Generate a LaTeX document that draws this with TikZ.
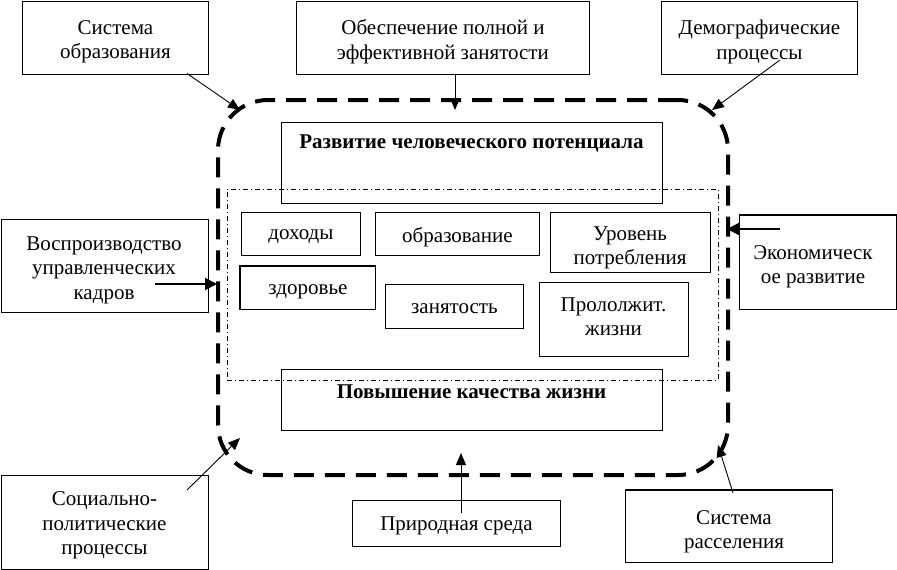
\documentclass[tikz,border=0pt]{standalone}
\usepackage{fontspec}
\setmainfont{Liberation Serif}
\usetikzlibrary{arrows.meta,calc}
\begin{document}
\begin{tikzpicture}[x=1pt,y=-1pt,
  box/.style={draw,line width=0.9pt,inner sep=0pt,anchor=north west},
  txt/.style={inner sep=0pt,align=center,font=\fontsize{21}{24.5}\selectfont},
  btxt/.style={inner sep=0pt,align=center,font=\fontsize{21}{24.5}\selectfont\bfseries},
  arr/.style={-{Triangle[length=12pt,width=10pt]},line width=0.9pt},
  tharr/.style={-{Triangle[length=12pt,width=12pt]},line width=2pt},
  frm/.style={draw,line width=4pt,dash pattern=on 20pt off 11pt,rounded corners=50pt,inner sep=0pt},
  grp/.style={draw,line width=0.7pt,dash pattern=on 5pt off 3pt on 1pt off 3pt,inner sep=0pt,anchor=north west}
]
\useasboundingbox (0,0) rectangle (897,570);

% outer dashed frame
\node[frm,minimum width=510pt,minimum height=375pt] (frame) at (473,287.5) {};
% inner dash-dot group
\node[grp,minimum width=491pt,minimum height=191pt] (group) at (227,189) {};

% top boxes
\node[box,minimum width=186pt,minimum height=73pt] (so) at (22,0.5) {};
\node[txt] (sot) at ($(so.center)+(0,4.5)$) {Система\\образования};
\node[box,minimum width=293pt,minimum height=73pt] (ob) at (296,0.5) {};
\node[txt] (obt) at ($(ob.center)+(0,4.5)$) {Обеспечение полной и\\эффективной занятости};
\node[box,minimum width=196pt,minimum height=73pt] (dem) at (661,0.5) {};
\node[txt] (demt) at ($(dem.center)+(0,4.5)$) {Демографические\\процессы};

% central boxes
\node[box,minimum width=381pt,minimum height=81pt] (rch) at (281,122) {};
\node[btxt] (rcht) at (471.5,143.5) {Развитие человеческого потенциала};
\node[box,minimum width=381pt,minimum height=61pt] (pkj) at (281,369) {};
\node[btxt] (pkjt) at (471.5,392) {Повышение качества жизни};

\node[box,minimum width=119pt,minimum height=43pt] (dox) at (241,212) {};
\node[txt] (doxt) at ($(dox.center)+(0,3)$) {доходы};
\node[box,minimum width=164pt,minimum height=43pt] (obr) at (375,212) {};
\node[txt] (obrt) at ($(obr.center)+(0,3)$) {образование};
\node[box,minimum width=160pt,minimum height=60pt] (urv) at (550,212) {};
\node[txt] (urvt) at (630,248) {Уровень\\потребления};
\node[box,minimum width=135pt,minimum height=43pt] (zdr) at (240,266) {};
\node[txt] (zdrt) at ($(zdr.center)+(0,3.5)$) {здоровье};
\draw[line width=2pt] (zdr.south west) -- (zdr.north west) -- (zdr.north east);
\node[box,minimum width=138pt,minimum height=44pt] (zan) at (385,284) {};
\node[txt] (zant) at ($(zan.center)+(0,2)$) {занятость};
\node[box,minimum width=149pt,minimum height=74pt] (pro) at (539,282) {};
\node[txt] (prot) at (613.5,316.5) {Прололжит.\\жизни};

% side boxes
\node[box,minimum width=207pt,minimum height=93pt] (vos) at (0.5,219) {};
\node[txt] (vost) at (104,270) {Воспроизводство\\управленческих\\кадров};
\node[box,minimum width=157pt,minimum height=94pt] (eko) at (739,215) {};
\node[txt] (ekot) at (813,267) {Экономическ\\ое развитие};
\draw[line width=2pt] (eko.north west) -- (eko.north east);

% bottom boxes
\node[box,minimum width=207pt,minimum height=94pt] (soc) at (0.5,475) {};
\node[txt] (soct) at ($(soc.center)+(0,3)$) {Социально-\\политические\\процессы};
\node[box,minimum width=208pt,minimum height=46pt] (pri) at (352,500) {};
\node[txt] (prit) at ($(pri.center)+(0,2)$) {Природная среда};
\node[box,minimum width=207pt,minimum height=72pt] (ras) at (625,490) {};
\node[txt] (rast) at (734,532) {Система\\расселения};
\draw[line width=2pt] (ras.north west) -- (ras.north east);

% connector ends
\coordinate (so-o) at (187,73.5);
\coordinate (f-so) at (240,110);
\coordinate (ob-o) at (455,73.5);
\coordinate (f-ob) at (455,110);
\coordinate (dem-o) at (780,60);
\coordinate (f-dem) at (712,110);
\coordinate (vos-o) at (155,284);
\coordinate (f-vos) at (217,284);
\coordinate (eko-o) at (780,229);
\coordinate (f-eko) at (727,229);
\coordinate (soc-o) at (187,490);
\coordinate (f-soc) at (240,438);
\coordinate (pri-o) at (461,513);
\coordinate (f-pri) at (461,453);
\coordinate (ras-o) at (733,493);
\coordinate (f-ras) at (718,445);

\draw[arr] (so-o) -- (f-so);
\draw[arr] (ob-o) -- (f-ob);
\draw[arr] (dem-o) -- (f-dem);
\draw[tharr] (vos-o) -- (f-vos);
\draw[tharr] (eko-o) -- (f-eko);
\draw[arr] (soc-o) -- (f-soc);
\draw[arr] (pri-o) -- (f-pri);
\draw[arr] (ras-o) -- (f-ras);
\end{tikzpicture}
\end{document}
